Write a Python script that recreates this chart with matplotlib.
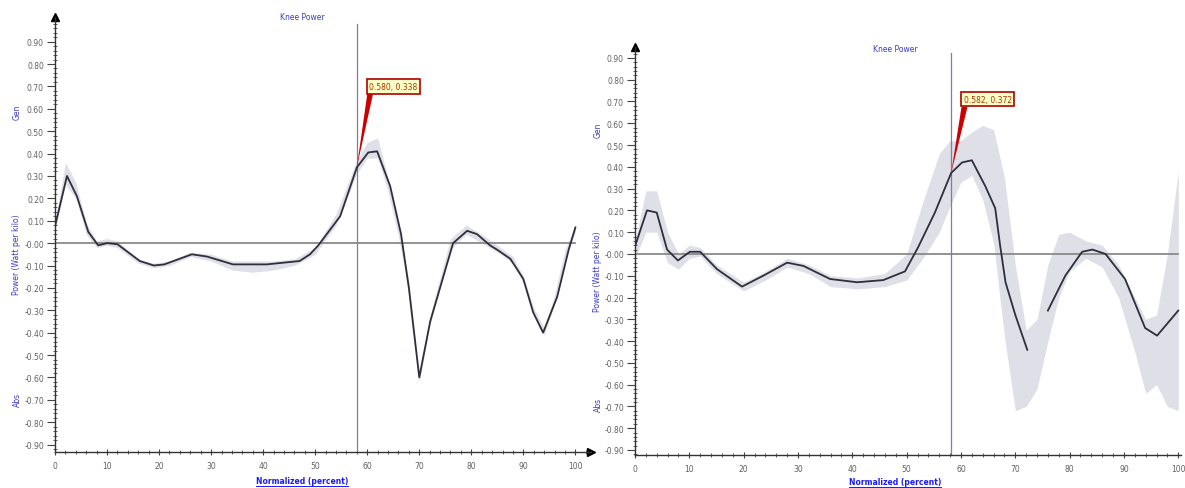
import numpy as np
import matplotlib
matplotlib.use("Agg")
import matplotlib.pyplot as plt
from matplotlib.patches import Polygon
from matplotlib.lines import Line2D
from matplotlib.ticker import MultipleLocator, FormatStrFormatter

W, H = 1185, 489

# ---- left panel data (normalized percent, W/kg) ----
left_t = [0, 2.3, 4.2, 6.4, 8.3, 10, 12, 16.3, 19, 21, 26.3, 29.2, 34.2, 40.7, 47, 49,
          50.6, 54.8, 58, 60.2, 61.9, 64.4, 66.5, 68, 70, 72.1, 76.5, 79.2, 81.1, 83.6,
          85, 87.5, 90, 91.9, 93.8, 96.5, 98.7, 100]
left_mean = [0.075, 0.30, 0.21, 0.05, -0.01, 0.0, -0.005, -0.08, -0.10, -0.095, -0.05, -0.06,
             -0.095, -0.095, -0.08, -0.05, -0.01, 0.12, 0.338, 0.405, 0.41, 0.255, 0.04, -0.20,
             -0.60, -0.35, 0.0, 0.055, 0.04, -0.01, -0.03, -0.07, -0.16, -0.31, -0.40, -0.24,
             -0.03, 0.07]
left_band_t = [0, 2, 4, 6, 8, 10, 12, 16, 19, 22, 26, 30, 34, 38, 42, 46, 50, 54, 58, 60, 62,
               64, 66, 68, 70, 72, 76, 79, 82, 85, 88, 90, 92, 94, 96, 98, 100]
left_lo = [0.06, 0.26, 0.20, 0.04, -0.02, -0.01, -0.02, -0.09, -0.11, -0.10, -0.06, -0.08,
           -0.12, -0.13, -0.12, -0.10, -0.05, 0.08, 0.31, 0.38, 0.38, 0.23, 0.03, -0.22,
           -0.62, -0.37, -0.03, 0.04, 0.0, -0.04, -0.09, -0.18, -0.32, -0.41, -0.27, -0.07, 0.05]
left_hi = [0.09, 0.36, 0.27, 0.09, 0.01, 0.02, 0.01, -0.07, -0.09, -0.08, -0.04, -0.05,
           -0.08, -0.08, -0.08, -0.07, -0.02, 0.13, 0.37, 0.45, 0.47, 0.29, 0.08, -0.17,
           -0.58, -0.33, 0.02, 0.08, 0.04, -0.01, -0.06, -0.15, -0.29, -0.38, -0.23, -0.03, 0.08]

# ---- right panel data ----
right_t = [0, 2.2, 4, 5.9, 7.9, 10.1, 12, 15.1, 19.7, 23.6, 28, 31, 35.9, 40.9, 45.7, 49.7,
           52.1, 55.2, 58.2, 60.2, 62, 64.5, 66.3, 67.2, 68.2, 70, 72.2, 74, 76, 79.2, 82.3,
           84.2, 86.6, 90.2, 93.9, 96.1, 100]
right_mean = [0.035, 0.20, 0.19, 0.02, -0.03, 0.01, 0.01, -0.07, -0.15, -0.10, -0.04, -0.055,
              -0.115, -0.13, -0.12, -0.08, 0.03, 0.19, 0.372, 0.42, 0.43, 0.31, 0.21, 0.04,
              -0.13, -0.28, -0.44, np.nan, -0.26, -0.10, 0.01, 0.02, 0.0, -0.115, -0.34,
              -0.375, -0.26]
right_band_t = [0, 2, 4, 6, 8, 10, 12, 15, 20, 24, 28, 32, 36, 41, 46, 50, 53, 56, 58, 60, 62,
                64, 66, 68, 70, 72, 74, 76, 78, 80, 83, 86, 89, 92, 94, 96, 98, 100]
right_lo = [-0.02, 0.10, 0.10, -0.04, -0.07, -0.02, -0.01, -0.09, -0.17, -0.12, -0.06, -0.09,
            -0.15, -0.16, -0.15, -0.12, -0.02, 0.10, 0.22, 0.33, 0.36, 0.25, 0.05, -0.38,
            -0.72, -0.70, -0.62, -0.40, -0.20, -0.08, -0.02, -0.06, -0.20, -0.45, -0.64,
            -0.60, -0.70, -0.72]
right_hi = [0.06, 0.29, 0.29, 0.10, 0.00, 0.04, 0.03, -0.05, -0.13, -0.08, -0.02, -0.05,
            -0.10, -0.11, -0.09, 0.00, 0.24, 0.46, 0.52, 0.52, 0.56, 0.59, 0.57, 0.35,
            -0.05, -0.35, -0.30, -0.05, 0.09, 0.10, 0.06, 0.04, -0.05, -0.20, -0.30, -0.28,
            0.00, 0.38]

marker_x = [58, 58.2]
marker_point = [(58, 0.338), (58.2, 0.372)]
marker_text = ["0.580, 0.338", "0.582, 0.372"]

BLUE = "#3a3ad0"
LINE = "#2e2e3c"
BAND = "#dfdfe8"
TICKC = "#606060"


def fx(px):
    return px / W


def fy(py):
    return 1 - py / H


def setup_axes(ax, xmax, ymin, ymax):
    ax.set_xlim(0, xmax)
    ax.set_ylim(ymin, ymax)
    for s in ["top", "right"]:
        ax.spines[s].set_visible(False)
    for s in ["left", "bottom"]:
        ax.spines[s].set_color("#333333")
        ax.spines[s].set_linewidth(1.0)
    ax.xaxis.set_minor_locator(MultipleLocator(2))
    ax.yaxis.set_minor_locator(MultipleLocator(0.02))
    ax.yaxis.set_major_formatter(FormatStrFormatter("%.2f"))
    ax.set_xticks([0, 10, 20, 30, 40, 50, 60, 70, 80, 90, 100])
    ax.set_yticks(np.round(np.arange(-0.9, 0.91, 0.1), 2))
    ax.tick_params(axis="both", which="major", labelsize=5.5, labelcolor=TICKC,
                   color="#444444", length=5, width=0.8, direction="inout")
    ax.tick_params(axis="both", which="minor", color="#444444", length=3, width=0.6,
                   direction="inout")
    ax.tick_params(axis="y", which="major", direction="out", length=6, pad=2)
    ax.tick_params(axis="x", which="major", pad=4)
    ax.plot(0, 1, "^", color="black", markersize=6, transform=ax.transAxes, clip_on=False)


def draw_panel(ax, t, mean, bt, lo, hi, vx, pt, txt, box_x, box_y):
    ax.fill_between(bt, lo, hi, color=BAND, lw=0, zorder=1)
    ax.axhline(0, xmin=0, xmax=100 / ax.get_xlim()[1], color="#8a8a8a", lw=1.3, zorder=2)
    ax.axvline(vx, ymax=0.985, color="#7c7ca6", lw=0.9, zorder=2)
    ax.plot(t, mean, color=LINE, lw=1.3, zorder=3)
    # red pointer + yellow label
    tri = Polygon([pt, (box_x + 0.2, box_y), (box_x + 1.3, box_y)], closed=True,
                  color="#cc0000", lw=0, zorder=4)
    ax.add_patch(tri)
    ax.text(box_x + 0.6, box_y + 0.015, txt, fontsize=5.5, color="#b03000", va="bottom",
            ha="left", zorder=5,
            bbox=dict(boxstyle="square,pad=0.35", fc="#ffffc8", ec="#b00000", lw=1.2))


fig = plt.figure(figsize=(W / 100, H / 100), dpi=100)

# left panel: x 0 -> px 55, 5.2 px/unit ; y 0 -> px 244, 224 px/unit
ax1 = fig.add_axes([fx(55), fy(453), fx(591 - 55), (453 - 18) / H])
setup_axes(ax1, 103, -0.933, 1.01)
ax1.plot(1, 0, ">", color="black", markersize=6, transform=ax1.transAxes, clip_on=False)
draw_panel(ax1, left_t, left_mean, left_band_t, left_lo, left_hi, marker_x[0],
           marker_point[0], marker_text[0], 59.8, 0.665)

# right panel: x 0 -> px 635, 5.43 px/unit ; y 0 -> px 255, 217.8 px/unit
ax2 = fig.add_axes([fx(635), fy(456), fx(1181 - 635), (456 - 48) / H])
setup_axes(ax2, 100.5, -0.923, 0.95)
draw_panel(ax2, right_t, right_mean, right_band_t, right_lo, right_hi, marker_x[1],
           marker_point[1], marker_text[1], 59.9, 0.675)

# titles and axis labels
for cx, ty, xl_y, lab_x, gen_y, pw_y, abs_y in [(302, 18, 482, 17, 112, 255, 400),
                                                  (895, 50, 483, 598, 130, 272, 405)]:
    fig.text(fx(cx), fy(ty), "Knee Power", fontsize=5.5, color=BLUE, ha="center", va="center")
    fig.text(fx(cx), fy(xl_y), "Normalized (percent)", fontsize=5.5, color="#1a1aff",
             fontweight="bold", ha="center", va="center")
    fig.add_artist(Line2D([fx(cx - 46), fx(cx + 46)], [fy(xl_y + 5), fy(xl_y + 5)],
                          color="#1a1aff", lw=0.7))
    fig.text(fx(lab_x), fy(gen_y), "Gen", fontsize=5.5, color=BLUE, rotation=90,
             ha="center", va="center")
    fig.text(fx(lab_x), fy(pw_y), "Power (Watt per kilo)", fontsize=5.5, color=BLUE,
             rotation=90, ha="center", va="center")
    fig.text(fx(lab_x), fy(abs_y), "Abs", fontsize=5.5, color=BLUE, rotation=90,
             ha="center", va="center")

fig.savefig("out.png", dpi=100)
